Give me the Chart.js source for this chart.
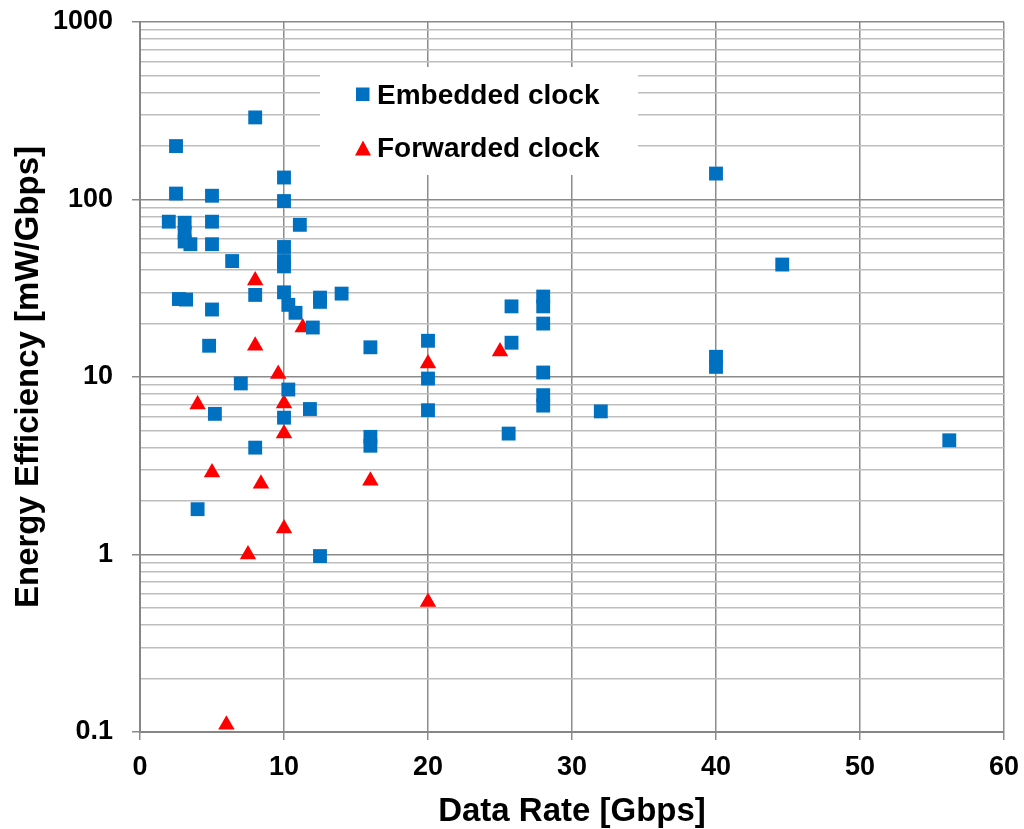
<!DOCTYPE html>
<html>
<head>
<meta charset="utf-8">
<script src="https://cdn.jsdelivr.net/npm/chart.js@4/dist/chart.umd.min.js"></script>
<style>
  html, body { margin: 0; padding: 0; background: #fff; }
  canvas { display: block; }
</style>
</head>
<body>
<canvas id="chart" width="1024" height="829"></canvas>
<script>
// Данные
const embeddedRate = [8, 2.5, 10, 2.5, 5, 10, 2, 3.1, 3.1, 3.1, 3.5, 5, 11.1, 5, 6.4, 10, 10, 10, 8, 2.7,
  3.2, 10, 10.3, 10.8, 12.5, 12.5, 14, 5, 12, 4.8, 7, 10.3, 5.2, 11.8, 10, 8, 4, 12.5, 20, 20,
  20, 16, 16, 16, 25.8, 25.8, 25.6, 28, 28, 28, 28, 28, 28, 40, 44.6, 40, 40, 32, 56.2];
const embeddedEnergy = [290, 200, 133, 108, 105, 98, 75, 74, 65, 58, 56, 75, 72, 56, 45, 54, 45, 42, 29, 27.5,
  27.3, 30, 25.5, 23, 28, 26.5, 29.5, 24, 19, 15, 9.2, 8.5, 6.2, 6.6, 5.9, 4, 1.8, 0.98, 16, 9.8,
  6.5, 14.7, 4.6, 4.1, 15.6, 25, 4.8, 28.4, 25, 20, 10.6, 7.9, 6.9, 140, 43, 13, 11.4, 6.4, 4.4];

const forwardedRate = [8, 11.3, 8, 9.6, 4, 10, 10, 5, 8.4, 10, 7.5, 6, 20, 16, 20, 25];
const forwardedEnergy = [35, 19, 15, 10.4, 7, 7.1, 4.8, 2.9, 2.5, 1.4, 1.0, 0.11, 11.9, 2.6, 0.54, 13.9];

const xTicks = [0, 10, 20, 30, 40, 50, 60];
const yDecades = [0.1, 1, 10, 100, 1000];
const yMinorSteps = [2, 3, 4, 5, 6, 7, 8, 9];

const seriesNames = ["Embedded clock", "Forwarded clock"];
const blue = "#0070C0";
const red = "#FF0000";

// все значения делений по оси Y (декады + промежуточные)
const yTicks = [];
yDecades.forEach((d, i) => {
  yTicks.push(d);
  if (i < yDecades.length - 1) yMinorSteps.forEach((m) => yTicks.push(+(d * m).toPrecision(3)));
});
const isDecade = (v) => yDecades.some((d) => Math.abs(d - v) < 1e-9);

const toPoints = (xs, ys) => xs.map((x, i) => ({ x: x, y: ys[i] }));

Chart.defaults.font.family = "'Liberation Sans', Arial, sans-serif";
Chart.defaults.color = "#000";

// легенда внутри области графика
const legendBox = {
  id: "legendBox",
  afterDraw(chart) {
    const ctx = chart.ctx;
    ctx.save();
    ctx.fillStyle = "#fff";
    ctx.fillRect(320, 67, 318, 108);

    ctx.fillStyle = blue;
    ctx.fillRect(356, 87.5, 13.5, 13.5);

    ctx.fillStyle = red;
    ctx.beginPath();
    ctx.moveTo(363, 140.5);
    ctx.lineTo(371, 155.5);
    ctx.lineTo(355, 155.5);
    ctx.closePath();
    ctx.fill();

    ctx.fillStyle = "#000";
    ctx.font = "bold 28px 'Liberation Sans', Arial, sans-serif";
    ctx.textBaseline = "alphabetic";
    ctx.fillText(seriesNames[0], 377, 104);
    ctx.fillText(seriesNames[1], 377, 157);
    ctx.restore();
  },
};

const data = {
  datasets: [
    {
      label: seriesNames[0],
      data: toPoints(embeddedRate, embeddedEnergy),
      pointStyle: "rect",
      pointRadius: 9.8,
      pointHoverRadius: 9.8,
      pointBorderWidth: 0,
      backgroundColor: blue,
      borderColor: blue,
    },
    {
      label: seriesNames[1],
      data: toPoints(forwardedRate, forwardedEnergy),
      pointStyle: "triangle",
      pointRadius: 9.5,
      pointHoverRadius: 9.5,
      pointBorderWidth: 0,
      backgroundColor: red,
      borderColor: red,
    },
  ],
};

const config = {
  type: "scatter",
  data: data,
  options: {
    responsive: false,
    animation: false,
    devicePixelRatio: 1,
    layout: {
      padding: { left: 0, right: 20, top: 22, bottom: 0 },
    },
    plugins: {
      legend: { display: false },
      tooltip: { enabled: false },
    },
    scales: {
      x: {
        type: "linear",
        min: 0,
        max: 60,
        afterBuildTicks: (scale) => {
          scale.ticks = xTicks.map((v) => ({ value: v }));
        },
        afterFit: (scale) => {
          scale.height = 97;
          scale.paddingLeft = 0;
          scale.paddingRight = 0;
        },
        ticks: {
          autoSkip: false,
          maxRotation: 0,
          padding: 11,
          font: { size: 27, weight: "bold" },
        },
        grid: {
          color: "#8c8c8c",
          lineWidth: 1.5,
          tickLength: 8,
          tickColor: "#8c8c8c",
        },
        border: { color: "#868686", width: 2 },
        title: {
          display: true,
          text: "Data Rate [Gbps]",
          font: { size: 33, weight: "bold" },
          padding: { top: 0, bottom: -3 },
        },
      },
      y: {
        type: "logarithmic",
        min: 0.1,
        max: 1000,
        afterBuildTicks: (scale) => {
          scale.ticks = yTicks.map((v) => ({ value: v, major: isDecade(v) }));
        },
        afterFit: (scale) => {
          scale.width = 140;
          scale.paddingTop = 0;
          scale.paddingBottom = 0;
        },
        ticks: {
          autoSkip: false,
          padding: 19,
          font: { size: 27, weight: "bold" },
          callback: (value) => (isDecade(value) ? String(value) : ""),
        },
        grid: {
          color: (c) => (c.tick && isDecade(c.tick.value) ? "#8a8a8a" : "#bdbdbd"),
          lineWidth: 1.5,
          tickLength: 8,
          tickColor: (c) => (c.tick && isDecade(c.tick.value) ? "#8a8a8a" : "rgba(0,0,0,0)"),
        },
        border: { color: "#868686", width: 2 },
        title: {
          display: true,
          text: "Energy Efficiency [mW/Gbps]",
          font: { size: 33, weight: "bold" },
          padding: { top: 9, bottom: 0 },
        },
      },
    },
  },
  plugins: [legendBox],
};

const chart = new Chart(document.getElementById("chart"), config);
</script>
</body>
</html>
